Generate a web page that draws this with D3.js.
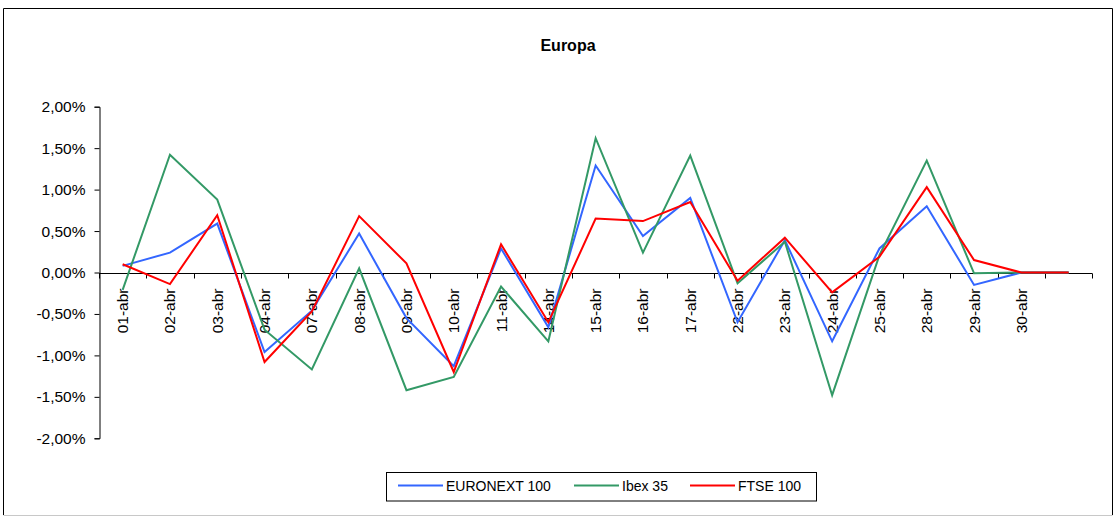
<!DOCTYPE html>
<html>
<head>
<meta charset="utf-8">
<script src="https://cdn.jsdelivr.net/npm/d3@7"></script>
<style>
  body { margin: 0; background: #fff; }
  svg { display: block; font-family: "Liberation Sans", Arial, sans-serif; }
</style>
</head>
<body>
<svg id="chart" width="1116" height="517"></svg>
<script>
const categories = ["01-abr","02-abr","03-abr","04-abr","07-abr","08-abr","09-abr","10-abr","11-abr","14-abr",
  "15-abr","16-abr","17-abr","22-abr","23-abr","24-abr","25-abr","28-abr","29-abr","30-abr",""];
const euronext = [0.08,0.24,0.59,-0.96,-0.46,0.47,-0.55,-1.13,0.29,-0.66,1.29,0.44,0.90,-0.60,0.39,-0.83,0.29,0.80,-0.15,0.00,0.00];
const ibex     = [-0.21,1.42,0.88,-0.69,-1.17,0.05,-1.42,-1.26,-0.17,-0.83,1.62,0.24,1.41,-0.13,0.37,-1.48,0.21,1.35,-0.01,0.00,0.00];
const ftse     = [0.10,-0.14,0.69,-1.08,-0.47,0.68,0.11,-1.20,0.34,-0.60,0.65,0.62,0.85,-0.10,0.42,-0.24,0.19,1.03,0.15,0.00,0.00];
const yTicks = [2.0,1.5,1.0,0.5,0.0,-0.5,-1.0,-1.5,-2.0];
const seriesNames = ["EURONEXT 100","Ibex 35","FTSE 100"];
const seriesColors = ["#3366ff","#339966","#ff0000"];

const svg = d3.select("#chart");
// outer frame
svg.append("line").attr("x1",3.5).attr("y1",8.5).attr("x2",1112.5).attr("y2",8.5).attr("stroke","#000");
svg.append("line").attr("x1",3.5).attr("y1",8.5).attr("x2",3.5).attr("y2",515).attr("stroke","#000");
svg.append("line").attr("x1",1112.5).attr("y1",8.5).attr("x2",1112.5).attr("y2",515).attr("stroke","#000");
svg.append("line").attr("x1",3.5).attr("y1",515.5).attr("x2",1112.5).attr("y2",515.5).attr("stroke","#c8c8c8");

svg.append("text").attr("x",568).attr("y",51).attr("text-anchor","middle")
  .attr("font-size",16).attr("font-weight","bold").text("Europa");

const x = d3.scaleBand().domain(d3.range(categories.length)).range([99,1092.3]);
const y = d3.scaleLinear().domain([-2,2]).range([438.3,106.7]);
const locale = d3.formatLocale({decimal: ",", thousands: ".", grouping: [3], currency: ["", "€"], minus: "-"});
const fmtNum = locale.format(".2f");
const fmt = v => fmtNum(v) + "%";

// y axis
const yAxis = svg.append("g").attr("transform","translate(99.5,0)")
  .call(d3.axisLeft(y).tickValues(yTicks).tickSize(5).tickPadding(9).tickFormat(fmt));
yAxis.selectAll("path,line").attr("stroke","#000");
yAxis.selectAll("text").attr("font-size",15.5).attr("fill","#000")
  .attr("font-family","Liberation Sans, Arial, sans-serif");

// x axis at zero
const xAxisG = svg.append("g").attr("transform",`translate(0,${Math.round(y(0))+0.5})`);
xAxisG.append("line").attr("x1",99).attr("x2",1092.3).attr("stroke","#000");
const bounds = d3.range(categories.length+1).map(i => i===categories.length ? 1092.3 : x(i));
xAxisG.selectAll("line.tk").data(bounds).enter().append("line").attr("class","tk")
  .attr("x1",d=>Math.round(d)+0.5).attr("x2",d=>Math.round(d)+0.5).attr("y1",0).attr("y2",5).attr("stroke","#000");
xAxisG.selectAll("text").data(categories).enter().append("text")
  .attr("transform",(d,i)=>`translate(${x(i)+x.bandwidth()/2+5.5},15) rotate(-90)`)
  .attr("text-anchor","end").attr("font-size",15.5).attr("fill","#000").text(d=>d);

// lines
const line = d3.line().x((d,i)=>x(i)+x.bandwidth()/2).y(d=>y(d));
[euronext, ibex, ftse].forEach((s,k)=>{
  svg.append("path").datum(s).attr("d",line).attr("fill","none")
    .attr("stroke",seriesColors[k]).attr("stroke-width",2).attr("stroke-linejoin","miter");
});

// legend
const lg = svg.append("g");
lg.append("rect").attr("x",386.5).attr("y",472.5).attr("width",430).attr("height",28.5)
  .attr("fill","#fff").attr("stroke","#000");
const lx = [398,574,690];
seriesNames.forEach((n,k)=>{
  lg.append("line").attr("x1",lx[k]).attr("x2",lx[k]+45).attr("y1",485.5).attr("y2",485.5)
    .attr("stroke",seriesColors[k]).attr("stroke-width",2);
  lg.append("text").attr("x",lx[k]+48).attr("y",490.5).attr("font-size",14).attr("fill","#000").text(n);
});
</script>
</body>
</html>
